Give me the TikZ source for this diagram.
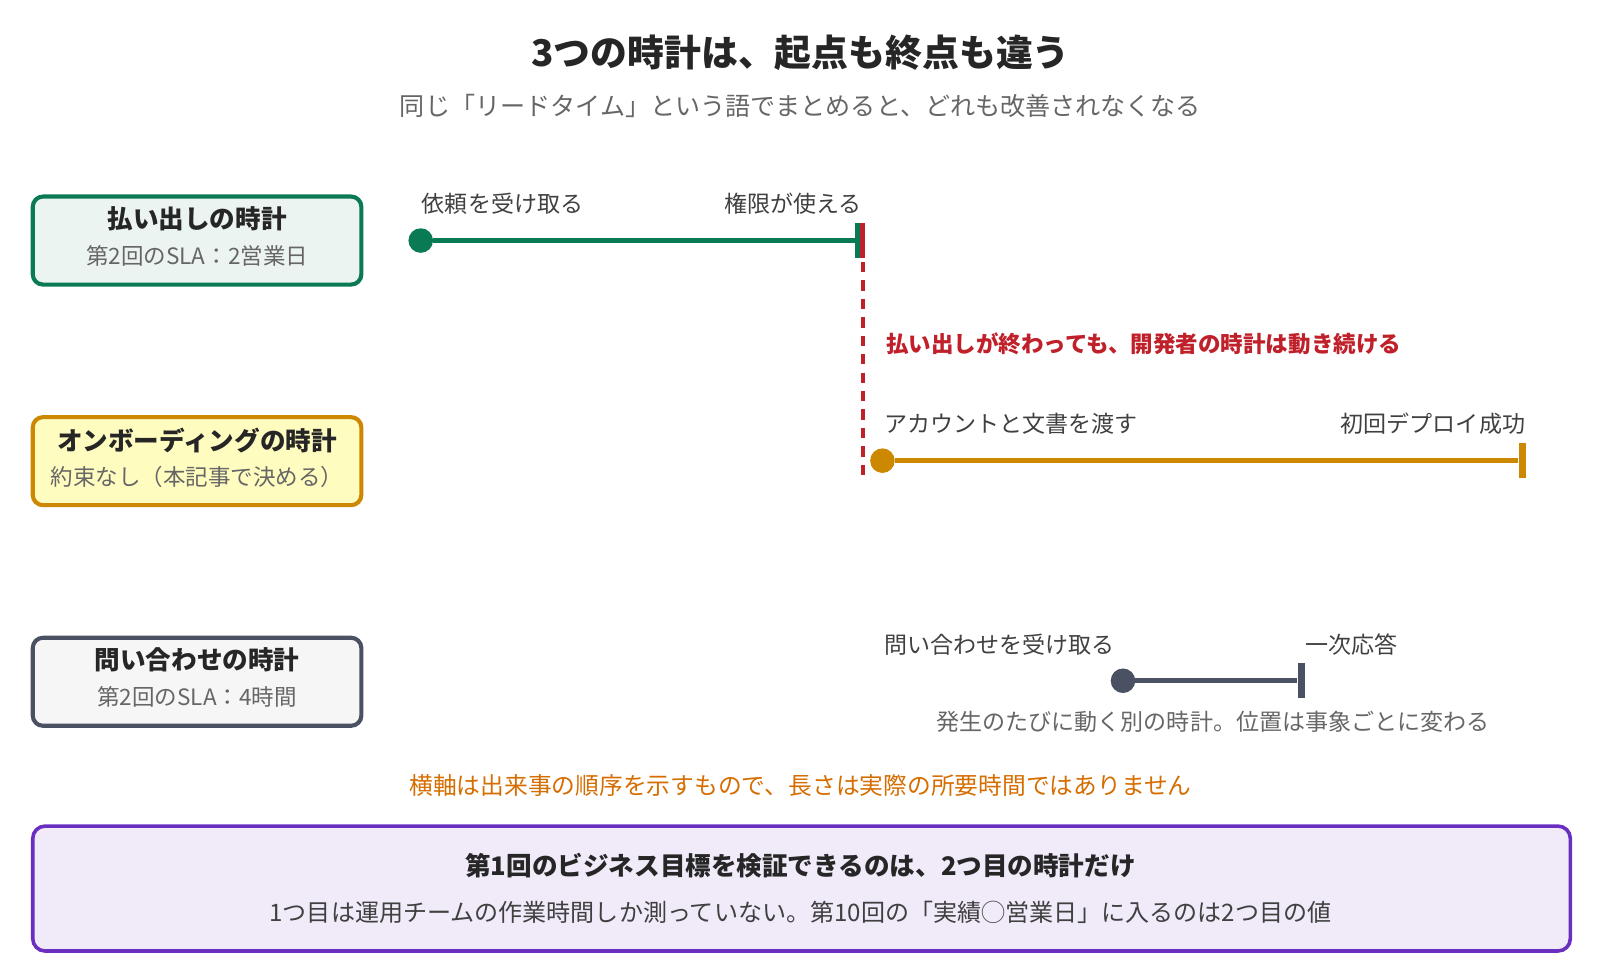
\documentclass[tikz,border=0pt]{standalone}
\usepackage{fontspec}
\setmainfont{Noto Sans CJK JP}
\usetikzlibrary{positioning}
\definecolor{cgreen}{HTML}{0A7A55}
\definecolor{corange}{HTML}{CC8800}
\definecolor{cgray}{HTML}{4A5162}
\definecolor{cred}{HTML}{C0202A}
\definecolor{cpurple}{HTML}{6A2FC0}
\definecolor{ctext}{HTML}{666666}
\tikzset{
  clockbox/.style={draw, line width=4pt, rounded corners=10pt, minimum width=321pt, minimum height=86pt},
  boxtitle/.style={font=\fontsize{25}{29}\selectfont\bfseries, text=black!85},
  boxsub/.style={font=\fontsize{22}{26}\selectfont, text=ctext},
  lbl/.style={font=\fontsize{22.5}{26}\selectfont, text=black!75, inner sep=0pt},
  tl/.style={line width=5pt},
  dot/.style={circle, fill, inner sep=0pt, minimum size=24pt},
  tick/.style={fill, inner sep=0pt, minimum width=7pt, minimum height=34pt}
}
\begin{document}
\begin{tikzpicture}[x=1pt,y=-1pt]
	\useasboundingbox (0,0) rectangle (1563,957);
	% title
		\node [font=\fontsize{36}{40}\selectfont\bfseries, text=black!85] (title) at (782,52) {3つの時計は、起点も終点も違う};
		\node [font=\fontsize{24.5}{28}\selectfont, text=ctext] (subtitle) at (782,104) {同じ「リードタイム」という語でまとめると、どれも改善されなくなる};
	% clock boxes
		\node [clockbox, draw=cgreen, fill=cgreen!8] (payout) at (192.5,235) {};
		\node [boxtitle] at (192.5,214) {払い出しの時計};
		\node [boxsub] at (192.5,250) {第2回のSLA：2営業日};
		\node [clockbox, draw=corange, fill=yellow!25] (onboard) at (192.5,450.5) {};
		\node [boxtitle] at (192.5,430) {オンボーディングの時計};
		\node [boxsub] at (192.5,466) {約束なし（本記事で決める）};
		\node [clockbox, draw=cgray, fill=cgray!5] (inquiry) at (192.5,666) {};
		\node [boxtitle] at (192.5,645) {問い合わせの時計};
		\node [boxsub] at (192.5,681) {第2回のSLA：4時間};
	% red dashed marker
		\coordinate (redtop) at (843,220);
		\coordinate (redbot) at (843,466);
		\draw [cred, line width=3pt, dash pattern=on 10pt off 8pt] (redtop) -- (redbot);
		\node [font=\fontsize{22}{26}\selectfont\bfseries, text=cred, anchor=west] (note) at (862,336) {払い出しが終わっても、開発者の時計は動き続ける};
	% payout clock
		\node [dot, cgreen] (ps) at (411,235) {};
		\node [tick, cgreen] (pe) at (839,235) {};
		\draw [tl, cgreen] (ps) -- (pe);
		\fill [cred] (840,218) rectangle (845,252);
		\node [lbl, anchor=west] at (412,199) {依頼を受け取る};
		\node [lbl, anchor=east] at (842,199) {権限が使える};
	% onboarding clock
		\node [dot, corange] (os) at (862,450) {};
		\node [tick, corange] (oe) at (1487,450) {};
		\draw [tl, corange] (os) -- (oe);
		\node [lbl, anchor=west] at (864,414) {アカウントと文書を渡す};
		\node [lbl, anchor=east] at (1490,414) {初回デプロイ成功};
	% inquiry clock
		\node [dot, cgray] (is) at (1097,665) {};
		\node [tick, cgray] (ie) at (1271,665) {};
		\draw [tl, cgray] (is) -- (ie);
		\node [lbl, anchor=west] at (864,630) {問い合わせを受け取る};
		\node [lbl, anchor=west] at (1275,630) {一次応答};
		\node [lbl, text=ctext] at (1185,705) {発生のたびに動く別の時計。位置は事象ごとに変わる};
	% axis note
		\node [font=\fontsize{23.2}{27}\selectfont, text=corange!80!red] (axis) at (782,767) {横軸は出来事の順序を示すもので、長さは実際の所要時間ではありません};
	% conclusion
		\node [draw=cpurple, fill=cpurple!10, line width=3.5pt, rounded corners=12pt, minimum width=1502pt, minimum height=122pt] (concl) at (783,868) {};
		\node [boxtitle] at (782,846) {第1回のビジネス目標を検証できるのは、2つ目の時計だけ};
		\node [lbl, font=\fontsize{23.5}{27}\selectfont] at (782,891) {1つ目は運用チームの作業時間しか測っていない。第10回の「実績◯営業日」に入るのは2つ目の値};
\end{tikzpicture}
\end{document}
